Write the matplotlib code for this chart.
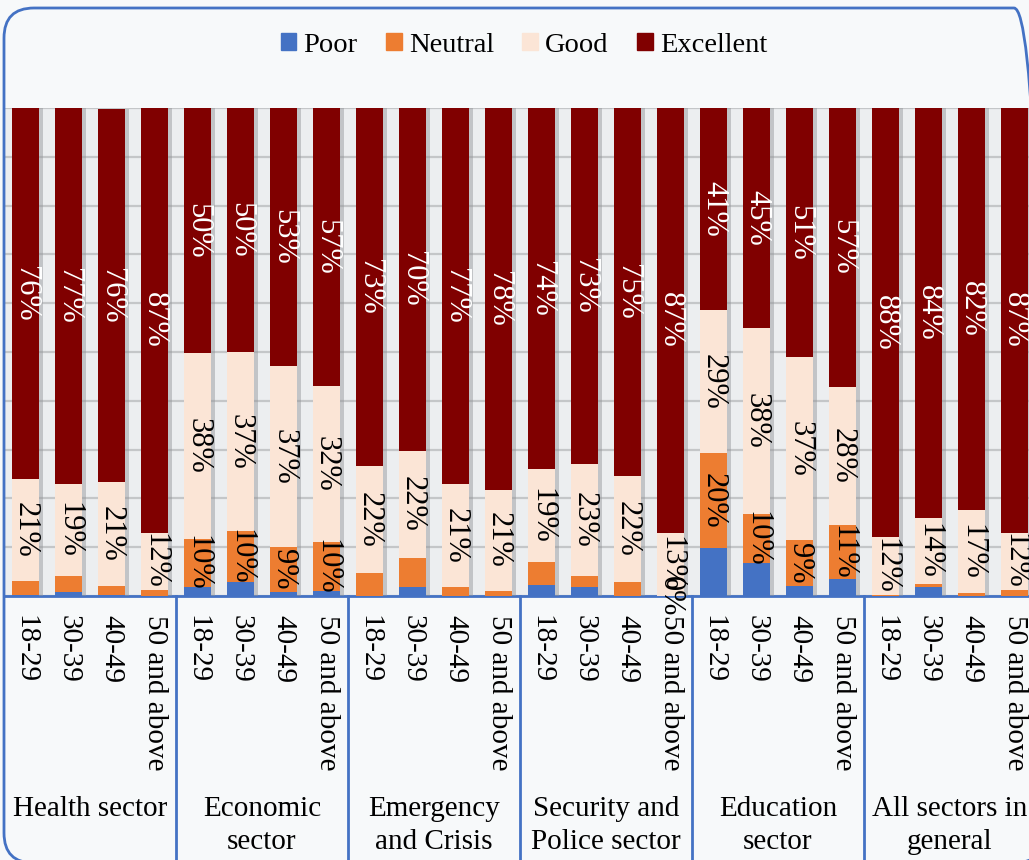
import numpy as np
import matplotlib
matplotlib.use("Agg")
import matplotlib.pyplot as plt
import matplotlib.patches as mpatches
import matplotlib.patheffects as pe
from matplotlib.transforms import IdentityTransform

plt.rcParams['font.family'] = ['Liberation Serif', 'DejaVu Serif']

sectors = ["Health sector", "Economic\nsector", "Emergency\nand Crisis",
           "Security and\nPolice sector", "Education\nsector", "All sectors in\ngeneral"]
ages = ["18-29", "30-39", "40-49", "50 and above"]

poor = [0.3, 0.8, 0.2, 0,   1.8, 2.9, 0.8, 1,   0, 1.8, 0, 0,
        2.3, 1.8, 0, 0,     9.8, 6.8, 2.1, 3.5, 0, 1.8, 0, 0]
neutral = [2.7, 3.4, 1.8, 1.2,   9.8, 10.4, 9.2, 10,  4.7, 6, 1.8, 1,
           4.7, 2.3, 2.9, 0,     19.5, 10, 9.4, 11,   0.3, 0.6, 0.6, 1.2]
good = [21, 18.8, 21.4, 11.8,   38.2, 36.6, 37.2, 32,   22, 22, 21.2, 20.8,
        19, 23, 21.7, 13,       29.3, 38.2, 37.4, 28.4, 11.7, 13.6, 17, 11.8]
excellent = [76, 77, 76.4, 87,   50.2, 50.1, 52.8, 57,   73.3, 70.2, 77, 78.2,
             74, 72.9, 75.4, 87, 41.4, 45, 51.1, 57.1,   88, 84, 82.4, 87]
# which neutral values carry a label in the original
neutral_label = [False] * 4 + [True] * 4 + [False] * 4 + [False, False, False, True] + [True] * 4 + [False] * 4

series = [("Poor", poor, "#4472C4"), ("Neutral", neutral, "#ED7D31"),
          ("Good", good, "#FBE5D6"), ("Excellent", excellent, "#800000")]

W, H = 1029, 860
fig = plt.figure(figsize=(W / 100, H / 100), dpi=100)
fig.patch.set_facecolor("#F7F9FA")
ax = fig.add_axes([4 / W, 264 / H, 1032 / W, 488 / H])
ax.set_facecolor("#ECEEF0")

n = len(poor)
x = np.arange(n)
bottom = np.zeros(n)
shadow = [pe.SimplePatchShadow(offset=(3, 0), shadow_rgbFace="#8f9296", alpha=0.45), pe.Normal()]
handles = []
for name, vals, col in series:
    vals = np.array(vals, dtype=float)
    bars = ax.bar(x, vals, 0.63, bottom=bottom, color=col, zorder=3)
    for b in bars:
        b.set_path_effects(shadow)
    handles.append(mpatches.Patch(color=col, label=name))
    for i in range(n):
        show = name in ("Good", "Excellent") or (name == "Neutral" and neutral_label[i])
        if show:
            ax.text(x[i], bottom[i] + vals[i] / 2, f"{round(vals[i])}%", rotation=-90,
                    ha="center", va="center", fontsize=22,
                    color="white" if name == "Excellent" else "black", zorder=5)
    bottom = bottom + vals

ax.set_xlim(-0.5, n - 0.5)
ax.set_ylim(0, 100)
ax.set_yticks(np.arange(0, 101, 10))
ax.yaxis.grid(True, color="#C4C6C8", lw=1.6)
ax.set_axisbelow(True)
ax.tick_params(left=False, labelleft=False, bottom=False, labelbottom=False)
for s in ["left", "right", "top"]:
    ax.spines[s].set_visible(False)
ax.spines["bottom"].set_color("#4472C4")
ax.spines["bottom"].set_linewidth(2)

tr = ax.get_xaxis_transform()
for i in range(n):
    ax.text(x[i], -0.039, ages[i % 4], rotation=-90, ha="center", va="top",
            fontsize=21, transform=tr)
for g, name in enumerate(sectors):
    ax.text(g * 4 + 1.5, -0.410, name, ha="center", va="top", fontsize=21,
            transform=tr, linespacing=1.35)
    if g > 0:
        ax.plot([g * 4 - 0.5] * 2, [0, -0.6], transform=tr, clip_on=False,
                color="#4472C4", lw=2)

fig.legend(handles=handles, loc="center", bbox_to_anchor=(524 / W, 1 - 45 / H),
           ncol=4, frameon=False, fontsize=20.5, handlelength=0.55, handleheight=0.55,
           handletextpad=0.25, columnspacing=1.0)

border = mpatches.FancyBboxPatch((4, -3), 1040, 855, boxstyle="round,pad=0,rounding_size=30",
                                 transform=IdentityTransform(), fill=False,
                                 edgecolor="#4472C4", lw=2)
fig.add_artist(border)

fig.savefig("out.png", dpi=100, facecolor=fig.get_facecolor())
